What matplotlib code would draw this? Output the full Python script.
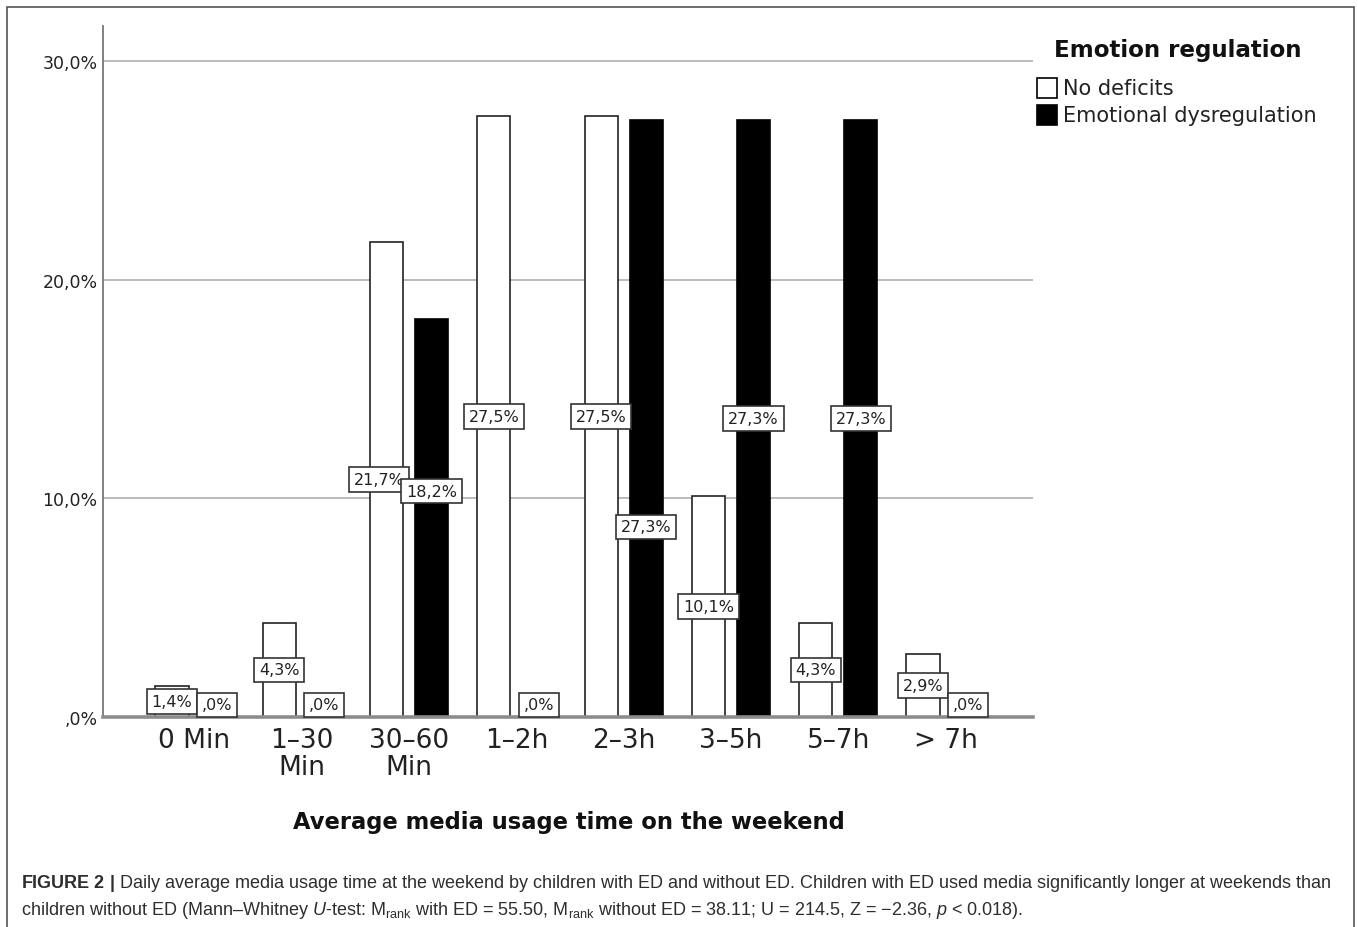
import matplotlib
matplotlib.use('Agg')
import matplotlib.pyplot as plt
from matplotlib.patches import Rectangle
import numpy as np

# ---------------- data ----------------
categories = ['0 Min', '1–30\nMin', '30–60\nMin', '1–2h', '2–3h', '3–5h', '5–7h', '> 7h']
no_deficits = [1.4, 4.3, 21.7, 27.5, 27.5, 10.1, 4.3, 2.9]
dysregulation = [0.0, 0.0, 18.2, 0.0, 27.3, 27.3, 27.3, 0.0]
series_names = ['No deficits', 'Emotional dysregulation']
series_colors = ['white', 'black']
legend_title = 'Emotion regulation'
x_title = 'Average media usage time on the weekend'
yticks = [0, 10, 20, 30]
ytick_labels = [',0%', '10,0%', '20,0%', '30,0%']

# label placement tweaks (layout only): (series, category) -> label height, x shift
label_height_override = {(1, 2): 10.33, (1, 4): 8.69}
label_x_shift = {(0, 2): -0.07}

plt.rcParams['font.family'] = ['DejaVu Sans']
plt.rcParams['mathtext.fontset'] = 'custom'
plt.rcParams['mathtext.rm'] = 'Liberation Sans'
plt.rcParams['mathtext.it'] = 'Liberation Sans:italic'
plt.rcParams['mathtext.bf'] = 'Liberation Sans:bold'

W, H = 1358, 928
fig = plt.figure(figsize=(W / 100, H / 100), dpi=100)
ax = fig.add_axes([103 / W, 1 - 718 / H, (1033 - 103) / W, (718 - 27) / H])

x = np.arange(len(categories))
w, off = 0.31, 0.21
ax.bar(x - off, no_deficits, w, color=series_colors[0], edgecolor='#222222', linewidth=1.2, zorder=3)
ax.bar(x + off, dysregulation, w, color=series_colors[1], edgecolor='black', linewidth=1.2, zorder=3)


def fmt(v):
    s = f"{v:.1f}".replace('.', ',')
    if s.startswith('0'):
        s = s[1:]
    return s + '%'


for si, (vals, sign) in enumerate([(no_deficits, -1), (dysregulation, 1)]):
    for ci, v in enumerate(vals):
        yy = label_height_override.get((si, ci), max(v / 2, 0.55))
        xx = ci + sign * off + label_x_shift.get((si, ci), 0)
        ax.text(xx, yy, fmt(v), ha='center', va='center', fontsize=11.5, color='#222222',
                zorder=5,
                bbox=dict(boxstyle='square,pad=0.3', fc='white', ec='#333333', lw=1.2))

ax.set_xlim(-0.853, 7.815)
ax.set_ylim(0, 31.6)
ax.set_yticks(yticks, ytick_labels, fontsize=12.5, color='#222222')
ax.set_xticks(x, categories, fontsize=19, color='#222222', linespacing=1.05)
ax.tick_params(axis='both', length=0)
ax.tick_params(axis='y', pad=4)
ax.tick_params(axis='x', pad=7)
ax.yaxis.grid(True, color='#b5b5b5', lw=1.3, zorder=0)
ax.set_axisbelow(True)
for s in ['top', 'right']:
    ax.spines[s].set_visible(False)
ax.spines['left'].set_color('#777777')
ax.spines['left'].set_linewidth(1.3)
ax.spines['bottom'].set_color('#8c8c8c')
ax.spines['bottom'].set_linewidth(2.6)
ax.spines['bottom'].set_zorder(4)

fig.text(569 / W, 1 - 823 / H, x_title, ha='center', va='center', fontsize=16.3,
         fontweight='bold', color='#111111')

# legend (drawn manually for exact spacing)
fig.text(1178 / W, 1 - 50 / H, legend_title, ha='center', va='center', fontsize=16.6,
         fontweight='bold', color='#111111')
for i, (name, col) in enumerate(zip(series_names, series_colors)):
    yc = 89 + 26.5 * i
    fig.patches.append(Rectangle((1037 / W, 1 - (yc + 10) / H), 20 / W, 20 / H,
                                 transform=fig.transFigure, fc=col, ec='black', lw=1.2))
    fig.text(1063 / W, 1 - yc / H, name, ha='left', va='center', fontsize=15,
             color='#222222')

# figure frame
fig.patches.append(Rectangle((7 / W, -0.05), (1354 - 7) / W, 1 - 8 / H + 0.05,
                             transform=fig.transFigure, fill=False, ec='#555555', lw=1.2))

line1 = (r"$\mathbf{FIGURE\ 2\ |}$ Daily average media usage time at the weekend by children "
         r"with ED and without ED. Children with ED used media significantly longer at weekends than")
line2 = (r"children without ED (Mann–Whitney $\mathit{U}$-test: M$_{\mathrm{rank}}$ with ED = 55.50, "
         r"M$_{\mathrm{rank}}$ without ED = 38.11; U = 214.5, Z = −2.36, $\mathit{p}$ < 0.018).")
fig.text(21 / W, 1 - 884 / H, line1, ha='left', va='center', fontsize=12.95,
         family='Liberation Sans', color='#2e2e2e')
fig.text(21 / W, 1 - 911 / H, line2, ha='left', va='center', fontsize=12.95,
         family='Liberation Sans', color='#2e2e2e')

fig.savefig('out.png', dpi=100)
